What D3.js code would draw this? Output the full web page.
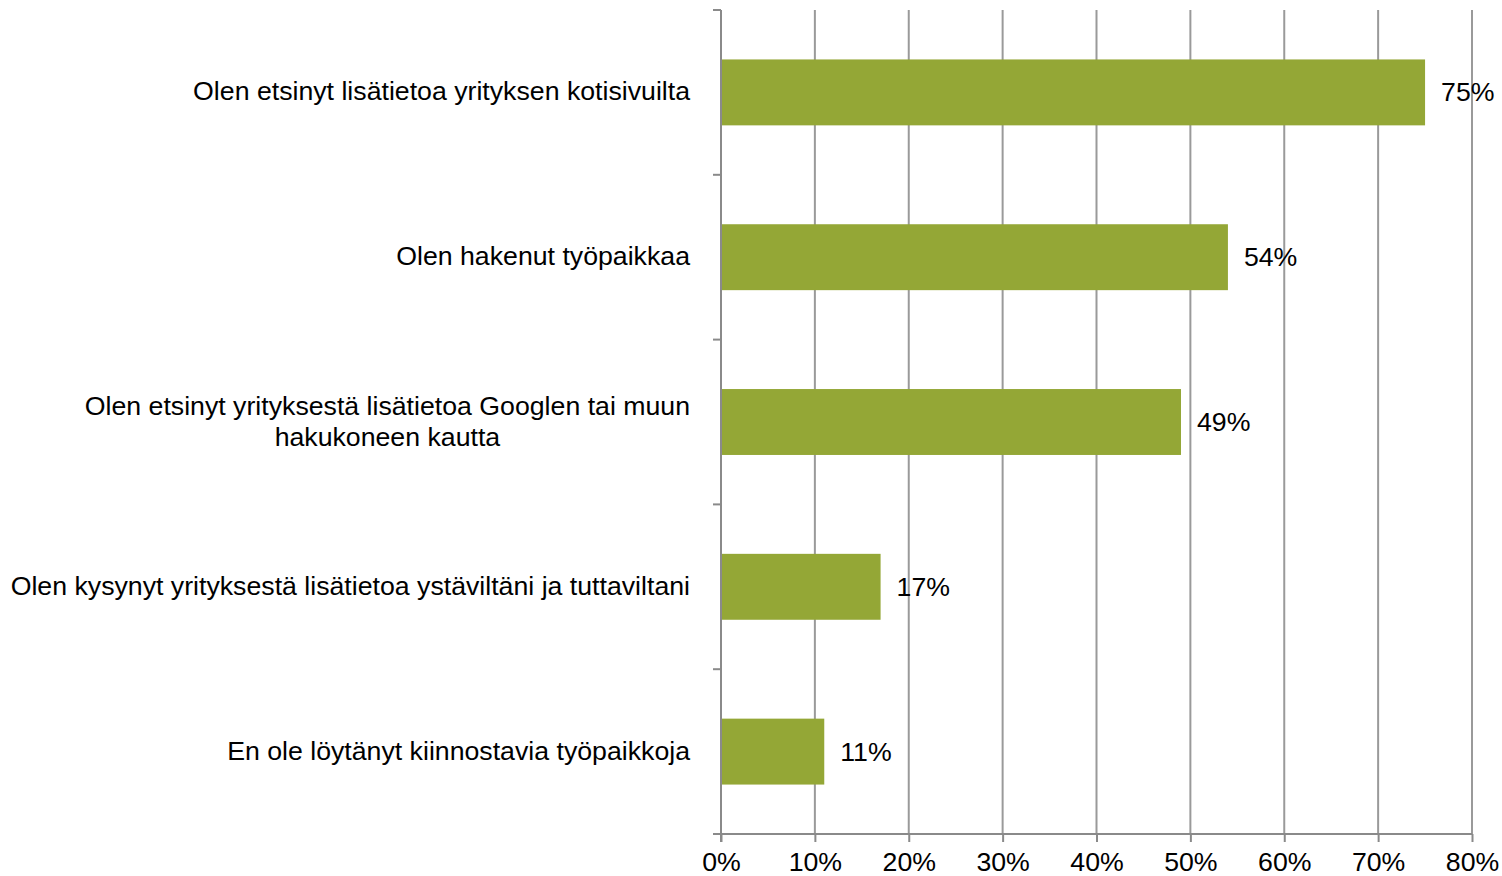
<!DOCTYPE html>
<html>
<head>
<meta charset="utf-8">
<script src="https://cdn.jsdelivr.net/npm/d3@7"></script>
<style>
  body { margin: 0; background: #fff; }
  text { font-family: "Liberation Sans", Arial, sans-serif; fill: #000; }
</style>
</head>
<body>
<div id="chart"></div>
<script>
// data
var categories = [
  ["Olen etsinyt lisätietoa yrityksen kotisivuilta"],
  ["Olen hakenut työpaikkaa"],
  ["Olen etsinyt yrityksestä lisätietoa Googlen tai muun", "hakukoneen kautta"],
  ["Olen kysynyt yrityksestä lisätietoa ystäviltäni ja tuttaviltani"],
  ["En ole löytänyt kiinnostavia työpaikkoja"]
];
var values = [75, 54, 49, 17, 11];
var xTicks = [0, 10, 20, 30, 40, 50, 60, 70, 80];

var width = 1502, height = 876,
    margin = {top: 10, right: 30, bottom: 42, left: 721},
    fontSize = 26.7;

var innerWidth = width - margin.left - margin.right,
    innerHeight = height - margin.top - margin.bottom;

var svg = d3.select("#chart").append("svg")
    .attr("width", width)
    .attr("height", height);

var g = svg.append("g")
    .attr("transform", "translate(" + margin.left + "," + margin.top + ")");

var xScale = d3.scaleLinear().domain([0, 80]).range([0, innerWidth]);
var yScale = d3.scaleBand()
    .domain(d3.range(values.length))
    .range([0, innerHeight])
    .paddingInner(0.6)
    .paddingOuter(0.3);

// gridlines
g.selectAll(".grid")
    .data(xTicks.slice(1))
  .enter().append("line")
    .attr("class", "grid")
    .attr("x1", function(d) { return xScale(d); })
    .attr("x2", function(d) { return xScale(d); })
    .attr("y1", 0)
    .attr("y2", innerHeight)
    .attr("stroke", "#9a9a9a")
    .attr("stroke-width", 2);

// bars
g.selectAll(".bar")
    .data(values)
  .enter().append("rect")
    .attr("class", "bar")
    .attr("x", xScale(0))
    .attr("y", function(d, i) { return yScale(i); })
    .attr("width", function(d) { return xScale(d) - xScale(0); })
    .attr("height", yScale.bandwidth())
    .attr("fill", "#94a736");

// value labels
g.selectAll(".val")
    .data(values)
  .enter().append("text")
    .attr("class", "val")
    .attr("x", function(d) { return xScale(d) + 16; })
    .attr("y", function(d, i) { return yScale(i) + yScale.bandwidth() / 2; })
    .attr("dy", "0.34em")
    .attr("font-size", fontSize)
    .text(function(d) { return d + "%"; });

// x axis
var xAxis = g.append("g")
    .attr("transform", "translate(0," + innerHeight + ")")
    .call(d3.axisBottom(xScale)
      .tickValues(xTicks)
      .tickSize(8)
      .tickPadding(10)
      .tickFormat(function(d) { return d + "%"; }));
xAxis.select(".domain").attr("stroke", "#8a8a8a").attr("stroke-width", 2)
    .attr("d", "M" + (-8) + ",0H" + innerWidth);
xAxis.selectAll(".tick line").attr("stroke", "#8a8a8a").attr("stroke-width", 2);
xAxis.selectAll(".tick text").attr("font-size", fontSize).attr("fill", "#000")
    .attr("font-family", "Liberation Sans, Arial, sans-serif");

// y axis line with ticks at category boundaries
var step = innerHeight / values.length;
g.append("line")
    .attr("x1", 0).attr("x2", 0)
    .attr("y1", 0).attr("y2", innerHeight + 8)
    .attr("stroke", "#8a8a8a").attr("stroke-width", 2);
g.selectAll(".ytick")
    .data(d3.range(values.length + 1))
  .enter().append("line")
    .attr("class", "ytick")
    .attr("x1", -8).attr("x2", 0)
    .attr("y1", function(d) { return d * step; })
    .attr("y2", function(d) { return d * step; })
    .attr("stroke", "#8a8a8a").attr("stroke-width", 2);

// category labels, right aligned block, lines centred within block
var labelX = -31, lineH = 31;
categories.forEach(function(lines, i) {
  var cy = yScale(i) + yScale.bandwidth() / 2;
  var t = g.append("text")
      .attr("font-size", fontSize)
      .attr("text-anchor", "end");
  var y0 = cy - (lines.length - 1) * lineH / 2;
  lines.forEach(function(s, j) {
    t.append("tspan")
      .attr("x", labelX)
      .attr("y", y0 + j * lineH)
      .attr("dy", "0.3em")
      .text(s);
  });
  if (lines.length > 1) {
    var spans = t.selectAll("tspan").nodes();
    var maxW = d3.max(spans, function(n) { return n.getComputedTextLength(); });
    var centre = labelX - maxW / 2;
    t.attr("text-anchor", "middle");
    t.selectAll("tspan").attr("x", centre);
  }
});
</script>
</body>
</html>
